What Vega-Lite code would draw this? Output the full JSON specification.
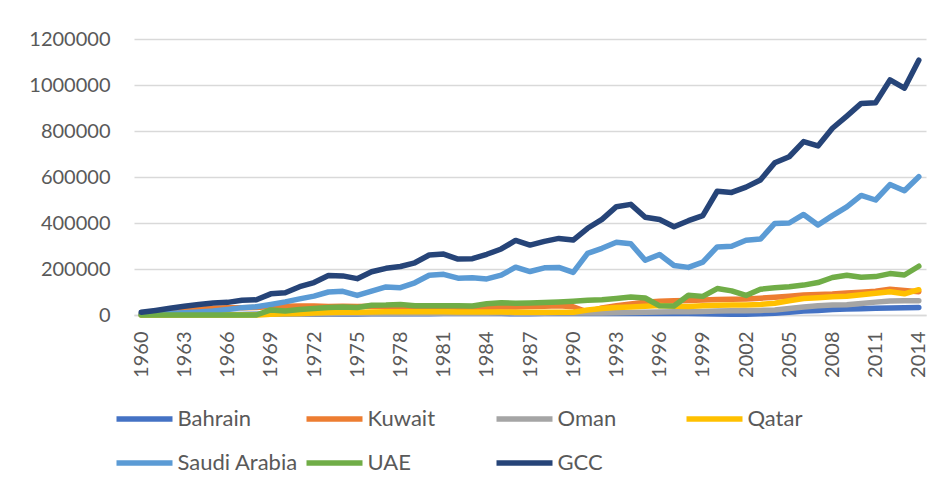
{
  "$schema": "https://vega.github.io/schema/vega-lite/v6.json",
  "width": 792,
  "height": 276,
  "autosize": {"type": "none"},
  "padding": {"left": 134, "top": 39, "right": 16, "bottom": 175},
  "background": "white",
  "config": {"font": "Lato", "view": {"stroke": null}},
  "data": {"values": [
    {"year":1960,"Bahrain":1000,"Kuwait":3000,"Oman":0,"Qatar":0,"Saudi Arabia":4000,"UAE":0,"GCC":12000},
    {"year":1961,"Bahrain":1000,"Kuwait":8000,"Oman":0,"Qatar":0,"Saudi Arabia":6000,"UAE":0,"GCC":20000},
    {"year":1962,"Bahrain":1500,"Kuwait":15000,"Oman":0,"Qatar":0,"Saudi Arabia":8000,"UAE":0,"GCC":29000},
    {"year":1963,"Bahrain":1500,"Kuwait":20000,"Oman":0,"Qatar":0,"Saudi Arabia":10000,"UAE":0,"GCC":38000},
    {"year":1964,"Bahrain":2000,"Kuwait":25000,"Oman":0,"Qatar":0,"Saudi Arabia":13000,"UAE":0,"GCC":46000},
    {"year":1965,"Bahrain":2000,"Kuwait":29000,"Oman":0,"Qatar":0,"Saudi Arabia":17000,"UAE":0,"GCC":52000},
    {"year":1966,"Bahrain":2500,"Kuwait":31000,"Oman":0,"Qatar":0,"Saudi Arabia":24000,"UAE":0,"GCC":55000},
    {"year":1967,"Bahrain":2500,"Kuwait":31000,"Oman":1000,"Qatar":0,"Saudi Arabia":32000,"UAE":0,"GCC":64000},
    {"year":1968,"Bahrain":3000,"Kuwait":33000,"Oman":2000,"Qatar":0,"Saudi Arabia":36000,"UAE":0,"GCC":66000},
    {"year":1969,"Bahrain":3000,"Kuwait":37000,"Oman":3000,"Qatar":3000,"Saudi Arabia":46000,"UAE":22000,"GCC":92000},
    {"year":1970,"Bahrain":3000,"Kuwait":38000,"Oman":3000,"Qatar":5000,"Saudi Arabia":57000,"UAE":17000,"GCC":97000},
    {"year":1971,"Bahrain":3500,"Kuwait":39000,"Oman":3000,"Qatar":7000,"Saudi Arabia":70000,"UAE":24000,"GCC":123000},
    {"year":1972,"Bahrain":3500,"Kuwait":39000,"Oman":4000,"Qatar":9000,"Saudi Arabia":82000,"UAE":28000,"GCC":141000},
    {"year":1973,"Bahrain":4000,"Kuwait":37000,"Oman":5000,"Qatar":11000,"Saudi Arabia":100000,"UAE":33000,"GCC":172000},
    {"year":1974,"Bahrain":4500,"Kuwait":38000,"Oman":6000,"Qatar":12000,"Saudi Arabia":103000,"UAE":35000,"GCC":170000},
    {"year":1975,"Bahrain":4500,"Kuwait":37000,"Oman":6000,"Qatar":12000,"Saudi Arabia":85000,"UAE":33000,"GCC":158000},
    {"year":1976,"Bahrain":5000,"Kuwait":38000,"Oman":7000,"Qatar":13000,"Saudi Arabia":104000,"UAE":42000,"GCC":188000},
    {"year":1977,"Bahrain":5000,"Kuwait":38000,"Oman":7000,"Qatar":14000,"Saudi Arabia":122000,"UAE":43000,"GCC":203000},
    {"year":1978,"Bahrain":5000,"Kuwait":39000,"Oman":7000,"Qatar":14000,"Saudi Arabia":119000,"UAE":46000,"GCC":211000},
    {"year":1979,"Bahrain":5500,"Kuwait":38000,"Oman":8000,"Qatar":14000,"Saudi Arabia":140000,"UAE":40000,"GCC":227000},
    {"year":1980,"Bahrain":5500,"Kuwait":37000,"Oman":8000,"Qatar":14000,"Saudi Arabia":173000,"UAE":40000,"GCC":261000},
    {"year":1981,"Bahrain":6000,"Kuwait":36000,"Oman":8000,"Qatar":14000,"Saudi Arabia":177000,"UAE":40000,"GCC":265000},
    {"year":1982,"Bahrain":6000,"Kuwait":34000,"Oman":8000,"Qatar":13000,"Saudi Arabia":160000,"UAE":40000,"GCC":243000},
    {"year":1983,"Bahrain":6000,"Kuwait":33000,"Oman":8000,"Qatar":13000,"Saudi Arabia":162000,"UAE":39000,"GCC":245000},
    {"year":1984,"Bahrain":6000,"Kuwait":34000,"Oman":8000,"Qatar":13000,"Saudi Arabia":157000,"UAE":49000,"GCC":264000},
    {"year":1985,"Bahrain":6000,"Kuwait":35000,"Oman":9000,"Qatar":13000,"Saudi Arabia":173000,"UAE":53000,"GCC":287000},
    {"year":1986,"Bahrain":5500,"Kuwait":35000,"Oman":8000,"Qatar":12000,"Saudi Arabia":208000,"UAE":51000,"GCC":324000},
    {"year":1987,"Bahrain":5500,"Kuwait":37000,"Oman":8000,"Qatar":12000,"Saudi Arabia":189000,"UAE":52000,"GCC":304000},
    {"year":1988,"Bahrain":6000,"Kuwait":38000,"Oman":8000,"Qatar":12000,"Saudi Arabia":205000,"UAE":54000,"GCC":320000},
    {"year":1989,"Bahrain":6000,"Kuwait":40000,"Oman":9000,"Qatar":12000,"Saudi Arabia":207000,"UAE":57000,"GCC":333000},
    {"year":1990,"Bahrain":6500,"Kuwait":36000,"Oman":9000,"Qatar":12000,"Saudi Arabia":185000,"UAE":60000,"GCC":326000},
    {"year":1991,"Bahrain":6500,"Kuwait":13000,"Oman":9000,"Qatar":22000,"Saudi Arabia":268000,"UAE":64000,"GCC":377000},
    {"year":1992,"Bahrain":7000,"Kuwait":31000,"Oman":9000,"Qatar":28000,"Saudi Arabia":290000,"UAE":66000,"GCC":416000},
    {"year":1993,"Bahrain":7000,"Kuwait":40000,"Oman":10000,"Qatar":33000,"Saudi Arabia":316000,"UAE":72000,"GCC":471000},
    {"year":1994,"Bahrain":7000,"Kuwait":48000,"Oman":11000,"Qatar":35000,"Saudi Arabia":310000,"UAE":78000,"GCC":481000},
    {"year":1995,"Bahrain":7000,"Kuwait":55000,"Oman":12000,"Qatar":38000,"Saudi Arabia":238000,"UAE":74000,"GCC":425000},
    {"year":1996,"Bahrain":7000,"Kuwait":60000,"Oman":13000,"Qatar":41000,"Saudi Arabia":263000,"UAE":40000,"GCC":415000},
    {"year":1997,"Bahrain":7000,"Kuwait":62000,"Oman":14000,"Qatar":38000,"Saudi Arabia":215000,"UAE":39000,"GCC":384000},
    {"year":1998,"Bahrain":6000,"Kuwait":63000,"Oman":14000,"Qatar":37000,"Saudi Arabia":207000,"UAE":86000,"GCC":410000},
    {"year":1999,"Bahrain":5000,"Kuwait":65000,"Oman":15000,"Qatar":40000,"Saudi Arabia":230000,"UAE":81000,"GCC":432000},
    {"year":2000,"Bahrain":4000,"Kuwait":67000,"Oman":17000,"Qatar":42000,"Saudi Arabia":296000,"UAE":115000,"GCC":538000},
    {"year":2001,"Bahrain":3000,"Kuwait":69000,"Oman":18000,"Qatar":43000,"Saudi Arabia":299000,"UAE":105000,"GCC":533000},
    {"year":2002,"Bahrain":3000,"Kuwait":70000,"Oman":19000,"Qatar":44000,"Saudi Arabia":325000,"UAE":85000,"GCC":556000},
    {"year":2003,"Bahrain":5000,"Kuwait":73000,"Oman":20000,"Qatar":46000,"Saudi Arabia":330000,"UAE":112000,"GCC":587000},
    {"year":2004,"Bahrain":8000,"Kuwait":77000,"Oman":22000,"Qatar":51000,"Saudi Arabia":398000,"UAE":118000,"GCC":662000},
    {"year":2005,"Bahrain":12000,"Kuwait":82000,"Oman":28000,"Qatar":62000,"Saudi Arabia":400000,"UAE":123000,"GCC":688000},
    {"year":2006,"Bahrain":17000,"Kuwait":87000,"Oman":35000,"Qatar":72000,"Saudi Arabia":437000,"UAE":130000,"GCC":754000},
    {"year":2007,"Bahrain":20000,"Kuwait":89000,"Oman":40000,"Qatar":75000,"Saudi Arabia":391000,"UAE":141000,"GCC":735000},
    {"year":2008,"Bahrain":24000,"Kuwait":91000,"Oman":43000,"Qatar":79000,"Saudi Arabia":432000,"UAE":163000,"GCC":812000},
    {"year":2009,"Bahrain":26000,"Kuwait":96000,"Oman":45000,"Qatar":82000,"Saudi Arabia":470000,"UAE":173000,"GCC":865000},
    {"year":2010,"Bahrain":27000,"Kuwait":99000,"Oman":50000,"Qatar":88000,"Saudi Arabia":520000,"UAE":164000,"GCC":920000},
    {"year":2011,"Bahrain":29000,"Kuwait":103000,"Oman":56000,"Qatar":95000,"Saudi Arabia":500000,"UAE":167000,"GCC":923000},
    {"year":2012,"Bahrain":30000,"Kuwait":112000,"Oman":61000,"Qatar":101000,"Saudi Arabia":567000,"UAE":180000,"GCC":1022000},
    {"year":2013,"Bahrain":32000,"Kuwait":107000,"Oman":62000,"Qatar":92000,"Saudi Arabia":540000,"UAE":174000,"GCC":986000},
    {"year":2014,"Bahrain":33000,"Kuwait":101000,"Oman":62000,"Qatar":110000,"Saudi Arabia":601000,"UAE":212000,"GCC":1108000}
  ]},
  "transform": [
    {"fold": ["Bahrain", "Kuwait", "Oman", "Qatar", "Saudi Arabia", "UAE", "GCC"], "as": ["series", "value"]}
  ],
  "mark": {"type": "line", "strokeWidth": 5.5, "strokeCap": "round", "strokeJoin": "round"},
  "encoding": {
    "x": {
      "field": "year", "type": "ordinal",
      "scale": {"type": "point", "padding": 0.5},
      "axis": {
        "values": [1960,1963,1966,1969,1972,1975,1978,1981,1984,1987,1990,1993,1996,1999,2002,2005,2008,2011,2014],
        "labelAngle": 270, "labelFont": "Lato", "labelFontSize": 20, "labelColor": "#595959",
        "labelPadding": 16, "ticks": false, "tickSize": 0, "domain": true, "domainColor": "#D9D9D9", "domainWidth": 1.5,
        "grid": false, "title": null
      }
    },
    "y": {
      "field": "value", "type": "quantitative",
      "scale": {"domain": [0, 1200000], "nice": false},
      "axis": {
        "values": [0, 200000, 400000, 600000, 800000, 1000000, 1200000],
        "format": "d", "labelFont": "Lato", "labelFontSize": 20, "labelColor": "#595959",
        "labelPadding": 24, "ticks": false, "tickSize": 0, "domain": false,
        "grid": true, "gridColor": "#D9D9D9", "gridWidth": 1.5, "title": null
      }
    },
    "color": {
      "field": "series", "type": "nominal",
      "scale": {
        "domain": ["Bahrain", "Kuwait", "Oman", "Qatar", "Saudi Arabia", "UAE", "GCC"],
        "range": ["#4472C4", "#ED7D31", "#A5A5A5", "#FFC000", "#5B9BD5", "#70AD47", "#264478"]
      },
      "legend": {
        "orient": "none", "legendX": -20.5, "legendY": 369,
        "direction": "horizontal", "columns": 4, "gridAlign": "all",
        "symbolType": "stroke", "symbolSize": 3136, "symbolStrokeWidth": 5.5,
        "labelFont": "Lato", "labelFontSize": 22, "labelColor": "#595959", "labelOffset": 2,
        "clipHeight": 22, "rowPadding": 22, "columnPadding": 5, "padding": 0, "title": null,
        "labelLimit": 300
      }
    }
  }
}
